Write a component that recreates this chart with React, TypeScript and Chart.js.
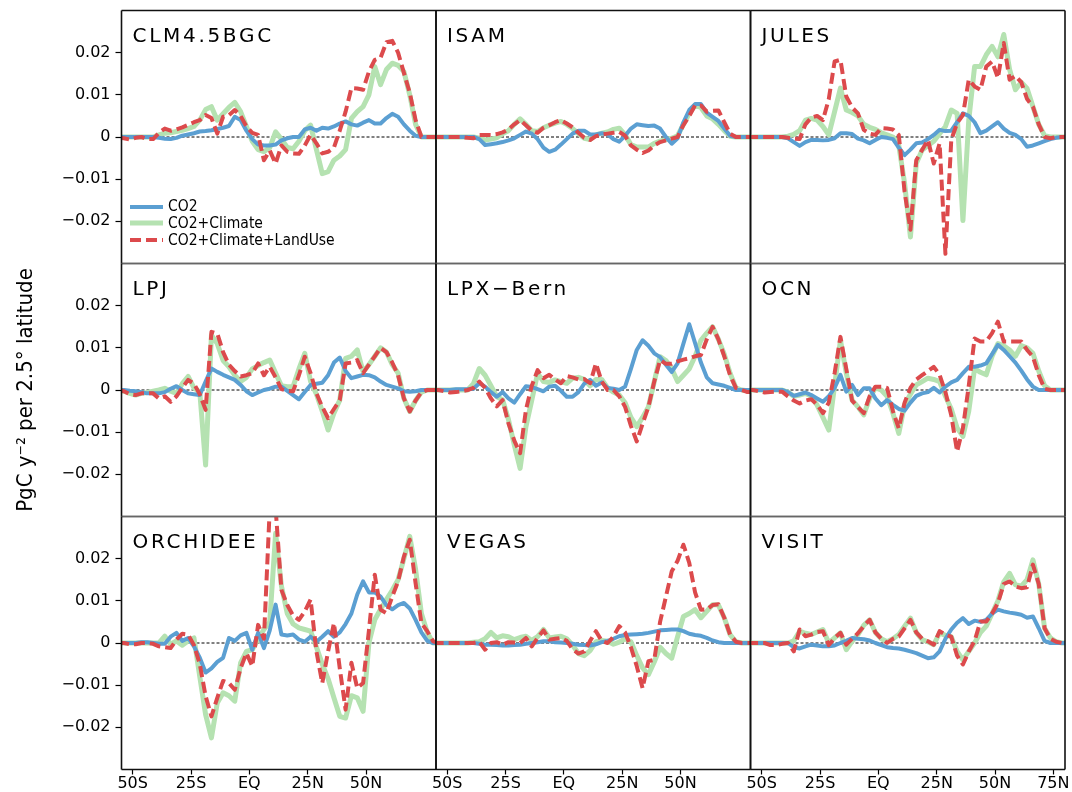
import React, { useEffect, useRef } from "react";
import { Chart, registerables } from "chart.js";

Chart.register(...registerables);

// ---------------- data ----------------
// latitude of each 2.5° band centre (degrees, negative = south)
const LATITUDES = [
  -56.25, -53.75, -51.25, -48.75, -46.25, -43.75, -41.25, -38.75, -36.25, -33.75,
  -31.25, -28.75, -26.25, -23.75, -21.25, -18.75, -16.25, -13.75, -11.25, -8.75,
  -6.25, -3.75, -1.25, 1.25, 3.75, 6.25, 8.75, 11.25, 13.75, 16.25,
  18.75, 21.25, 23.75, 26.25, 28.75, 31.25, 33.75, 36.25, 38.75, 41.25,
  43.75, 46.25, 48.75, 51.25, 53.75, 56.25, 58.75, 61.25, 63.75, 66.25,
  68.75, 71.25, 73.75, 76.25, 78.75, 81.25,
];

// values below are in 1e-3 PgC y^-2 per 2.5° latitude
const VALUE_UNIT = 0.001;

const CLM_CO2 = [0,
  0, 0, 0, 0, 0, 0, -0.2, -0.4, -0.5, -0.2,
  0.3, 0.6, 0.9, 1.3, 1.4, 1.6, 1.9, 2.2, 2.6, 4.8,
  4.0, 1.5, -0.5, -1.8, -2.0, -2.0, -1.8, -0.8, -0.3, 0,
  0, 1.8, 2.2, 1.5, 2.2, 2.0, 2.5, 3.2, 3.7, 3.0,
  2.7, 3.4, 4.0, 3.2, 3.2, 4.5, 5.5, 4.8, 3.0, 1.5,
  0.3, 0, 0, 0,
  0];
const CLM_CLIM = [0,
  0, 0, 0, 0, 0, 0, 0.5, 0.9, 1.0, 1.3,
  1.6, 2.0, 2.5, 4.0, 6.5, 7.2, 4.0, 5.5, 7.0, 8.2,
  6.0, 2.5, -1.0, -3.0, -3.5, -2.5, 1.2, -0.5, -2.5, -2.8,
  -1.0, 1.5, 2.8, -3.0, -8.7, -8.2, -5.5, -4.5, -3.0, 4.4,
  6.0, 7.2, 10.0, 16.7, 12.4, 16.0, 17.5, 17.0, 15.5, 10.0,
  3.0, 0, 0, 0,
  0];
const CLM_LUC = [-0.2,
  -0.3, -0.6, -0.2, 0, -0.5, -0.5, 1.0, 2.0, 1.5, 1.8,
  2.3, 2.9, 3.5, 4.0, 5.2, 4.5, 0.8, 4.8, 5.2, 6.4,
  5.0, 2.5, 1.0, 0.5, -5.5, -3.2, -6.3, -2.0, -3.5, -3.9,
  -4.0, -2.0, 0.5, -1.5, -3.9, -3.5, -2.5, 1.5, 6.0, 11.6,
  11.5, 11.2, 15.5, 18.3, 18.8, 22.5, 22.8, 20.0, 15.2, 10.5,
  4.0, 0, 0, 0,
  0];

const ISAM_CO2 = [0,
  0, 0, 0, 0, 0, 0, 0, -0.5, -1.9, -1.7,
  -1.5, -1.2, -0.8, -0.3, 0.5, 1.3, 0.8, -0.5, -2.5, -3.5,
  -3.0, -1.8, -0.5, 0.8, 1.5, 1.5, 0.6, 0.6, 0.9, 0.6,
  -0.5, -1.1, 0.3, 2.0, 3.0, 2.8, 2.6, 2.7, 2.0, 0,
  -1.6, -0.3, 3.5, 6.4, 7.8, 7.8, 5.8, 4.8, 3.8, 2.0,
  0.3, 0, 0, 0,
  0];
const ISAM_CLIM = [0,
  0, 0, 0, 0, 0, 0, 0, -0.3, -0.7, -0.5,
  -0.2, 0.8, 1.5, 3.0, 4.3, 3.0, 1.5, 1.3, 2.2, 2.8,
  3.3, 3.7, 3.0, 2.0, 0.8, -0.3, -0.6, 0.5, 0.9, 1.2,
  1.8, 2.1, 0.5, -1.8, -2.4, -2.4, -2.4, -1.5, -1.0, -0.6,
  -0.3, 0.3, 3.0, 5.6, 7.5, 7.0, 5.0, 4.3, 3.0, 1.5,
  0.2, 0, 0, 0,
  0];
const ISAM_LUC = [0,
  0, 0, 0, 0, 0, -0.2, -0.3, 0.5, 0.5, 0.5,
  0.7, 1.1, 1.8, 3.0, 4.0, 2.8, 1.5, 1.0, 2.2, 2.8,
  3.5, 4.0, 3.2, 2.3, 1.0, -0.2, -0.7, 0.2, 0.6, 0.8,
  1.0, 1.2, 0.3, -2.0, -3.0, -3.8, -3.2, -2.0, -1.2, -0.8,
  -0.4, 0, 2.8, 5.0, 7.5, 7.5, 6.0, 6.2, 6.3, 3.5,
  0.8, 0, 0, 0,
  0];

const JULES_CO2 = [0,
  0, 0, 0, 0, 0, 0, -0.3, -1.2, -2.1, -1.2,
  -0.7, -0.7, -0.8, -0.7, -0.3, 0.9, 0.9, 0.7, -0.4, -0.8,
  -1.5, -0.7, 0, -0.2, -0.5, -2.5, -4.3, -3.0, -1.5, -1.3,
  -0.5, 0.5, 1.7, 1.4, 1.5, 3.5, 5.6, 5.0, 3.5, 0.9,
  1.5, 2.5, 3.5, 2.0, 1.0, 0.5, -0.5, -2.3, -2.0, -1.5,
  -1.0, -0.5, -0.2, 0,
  0];
const JULES_CLIM = [0,
  0, 0, 0, 0, 0, 0, 0.2, 0.6, 1.5, 4.0,
  4.4, 4.0, 2.5, 0.5, 6.0, 11.6, 6.4, 5.8, 5.0, 3.0,
  2.3, 1.8, 1.0, 0.5, 0, -2.0, -11.0, -23.7, -6.3, -3.1,
  -2.0, -1.0, 0.8, 2.5, 6.4, 5.6, -19.8, 4.0, 16.7, 16.7,
  19.5, 21.5, 19.0, 24.3, 16.0, 11.2, 13.0, 11.5, 7.2, 3.0,
  0.3, 0, 0, 0,
  0];
const JULES_LUC = [0,
  0, 0, 0, 0, 0, 0, -0.2, -0.4, -0.5, 3.0,
  4.6, 5.0, 4.0, 9.0, 17.9, 18.3, 9.6, 7.0, 5.6, 1.7,
  0.8, 0.5, 2.1, 2.0, 1.8, 0.5, -13.0, -22.0, -5.5, -3.1,
  -0.7, -6.3, -1.5, -27.7, -0.7, 3.3, 5.2, 13.6, 12.0, 11.2,
  16.7, 17.9, 14.0, 22.3, 13.6, 14.5, 13.0, 9.0, 7.2, 3.0,
  0, -0.3, 0, 0,
  0];

const LPJ_CO2 = [0,
  0, -0.2, -0.3, -0.5, -0.8, -0.8, -0.8, -0.5, 0.3, 0.9,
  0, -0.8, -1.0, -1.2, 2.0, 5.1, 4.3, 3.6, 3.0, 2.4,
  1.2, -0.3, -1.2, -0.6, 0, 0.3, 0.8, 0.8, -0.2, -1.2,
  -2.2, -0.5, 1.2, 1.5, 1.7, 3.5, 6.5, 7.7, 4.5, 2.8,
  3.2, 3.6, 3.5, 3.0, 2.0, 1.2, 0.8, 0.4, -0.3, -0.4,
  -0.3, 0, 0, 0,
  0];
const LPJ_CLIM = [0,
  -0.3, -0.8, -1.2, -0.8, -0.6, -0.3, 0, 0.4, -0.3, -0.8,
  1.5, 3.2, 0.5, -0.5, -17.8, 13.0, 11.0, 7.0, 5.5, 3.5,
  2.0, 3.0, 5.0, 5.8, 6.5, 7.1, 4.0, 1.0, 0.8, 0.8,
  5.0, 8.7, 2.0, -1.0, -5.0, -9.5, -5.5, -2.4, 7.5, 8.0,
  9.5, 4.3, 6.0, 8.0, 10.0, 9.0, 6.0, 4.0, -2.0, -5.1,
  -2.5, -0.5, 0, 0,
  0];
const LPJ_LUC = [0,
  -0.3, -1.0, -1.2, -0.8, -0.8, -0.8, -2.0, -1.5, -2.8, -1.5,
  0.5, 2.4, 1.5, -1.0, -4.7, 13.8, 13.4, 9.0, 6.0, 4.5,
  3.2, 3.5, 4.0, 6.3, 3.5, 5.5, 3.0, 0.2, -0.2, -0.3,
  3.5, 7.9, 4.0, -0.8, -4.0, -6.7, -4.5, -2.4, 6.3, 6.5,
  7.1, 4.0, 6.0, 8.0, 10.0, 9.0, 6.5, 3.5, -2.0, -5.1,
  -2.5, -0.5, 0, 0,
  0];

const LPX_CO2 = [0,
  0, 0, 0, 0.2, 0.2, 0.2, 0.3, 1.6, 0.8, -0.5,
  -1.6, -0.5, -2.0, -3.0, -1.0, 0.9, 0.7, 0.2, -0.3, 0.8,
  1.0, -0.2, -1.6, -1.6, -0.5, 1.5, 2.4, 1.0, 1.8, 0.5,
  0.3, 0, 0.8, 5.0, 9.5, 11.8, 10.5, 8.7, 7.8, 6.0,
  4.3, 6.3, 11.0, 15.6, 11.1, 6.5, 3.0, 1.6, 1.3, 1.0,
  0.5, 0, 0, 0,
  0];
const LPX_CLIM = [0,
  0, 0, 0, 0, 0, 0, 1.5, 5.1, 3.5, 1.0,
  -1.6, -2.3, -7.0, -13.0, -18.6, -8.7, -2.4, 3.9, 2.0, 1.8,
  2.4, 2.0, 1.6, 2.8, 3.0, 2.5, 1.0, 2.5, 2.5, 0.5,
  -0.5, -1.2, -3.0, -6.5, -8.7, -6.5, -4.0, 2.0, 7.9, 7.0,
  5.0, 2.0, 3.5, 5.0, 8.0, 11.8, 13.5, 15.0, 12.0, 8.5,
  4.0, 0.5, 0, -0.2,
  0];
const LPX_LUC = [0,
  0, -0.3, -0.6, -0.5, -0.3, 0, 0.5, 2.0, 0.5, -2.0,
  -3.9, -2.4, -7.9, -12.0, -15.0, -4.7, 1.0, 4.7, 2.8, 3.6,
  2.5, 1.6, 3.3, 3.0, 2.5, 2.6, 1.6, 6.3, 2.0, 0,
  0, -1.5, -4.0, -8.5, -12.2, -8.0, -4.0, 2.0, 7.1, 6.2,
  6.2, 6.8, 7.2, 7.5, 8.0, 8.3, 12.0, 15.0, 12.0, 8.0,
  3.5, 0.5, 0, -0.5,
  -0.5];

const OCN_CO2 = [0,
  0, 0, 0, 0, 0, 0, -0.5, -1.4, -1.0, -0.6,
  -1.2, -2.0, -2.8, -1.5, 0.5, 3.6, -0.4, 1.2, -1.2, 0.4,
  0.4, -2.0, -3.6, -2.4, -3.5, -4.5, -4.9, -3.0, -1.4, -0.8,
  -0.5, 0.5, -0.6, 0.8, 1.8, 2.4, 4.0, 5.5, 5.5, 5.8,
  6.3, 8.5, 10.7, 9.5, 8.0, 6.5, 4.6, 2.5, 0.8, 0,
  0, 0, 0, 0,
  0];
const OCN_CLIM = [0,
  0, 0, 0, 0, 0, 0, -0.5, -1.5, -1.2, -0.8,
  -1.5, -3.6, -6.5, -9.5, 1.0, 11.8, 4.0, -2.4, -4.0, -5.9,
  -2.0, 0.5, 0, -1.5, -5.5, -10.3, -3.5, -1.0, 1.2, 2.0,
  2.8, 2.5, 2.0, -1.5, -4.5, -9.0, -11.0, -5.0, 5.1, 4.2,
  3.6, 8.0, 11.0, 10.5, 9.5, 8.0, 10.5, 10.0, 8.7, 4.5,
  1.0, 0, 0, 0,
  0];
const OCN_LUC = [0,
  0, -0.3, -0.6, -0.5, -0.4, -0.4, -1.5, -2.5, -3.2, -2.5,
  -2.2, -3.5, -5.5, -3.0, 4.0, 12.6, 5.0, -2.5, -4.0, -5.5,
  -1.5, 0.8, 0.8, 0.5, -5.0, -9.1, -3.0, 0.5, 2.5, 3.5,
  4.5, 5.5, 3.6, -0.5, -6.0, -14.6, -9.0, 1.0, 12.2, 11.5,
  11.5, 13.5, 16.2, 11.5, 11.5, 11.5, 11.5, 9.5, 7.9, 3.5,
  0.3, 0, 0, 0,
  0];

const ORCH_CO2 = [0,
  0, 0, 0, 0.2, 0.2, 0, -0.2, -0.2, 1.5, 2.4,
  0.5, 1.2, -0.8, -3.5, -7.0, -6.0, -4.5, -3.5, 1.2, 0.5,
  1.8, 2.4, -1.6, 2.4, -1.2, 3.0, 9.1, 2.0, 1.8, 2.0,
  0.8, 0.3, 1.5, 0.3, 1.5, 2.8, 1.5, 2.5, 4.5, 7.0,
  11.5, 14.6, 12.0, 12.0, 11.0, 9.0, 8.0, 9.0, 9.5, 8.2,
  5.5, 2.5, 0.5, 0,
  0];
const ORCH_CLIM = [0,
  0, 0, 0, 0, 0, 0, 0, 1.6, -0.3, 0.5,
  -0.5, 0.5, 1.2, -8.0, -17.0, -22.5, -14.2, -11.8, -12.5, -13.8,
  -4.7, -2.0, -1.6, 1.0, 3.2, 5.0, 26.0, 13.5, 7.0, 4.5,
  3.6, 3.2, 2.8, -1.0, -5.0, -8.5, -13.0, -17.4, -17.8, -12.5,
  -13.0, -16.2, 0, 5.5, 8.0, 10.3, 12.5, 15.0, 20.0, 25.3,
  17.5, 7.0, 2.5, 0,
  0];
const ORCH_LUC = [0,
  0, -0.3, -0.3, 0, 0, -0.2, -0.8, -1.0, -1.2, 0.8,
  2.2, 2.0, -0.5, -5.0, -12.6, -17.4, -13.0, -9.0, -9.5, -11.1,
  -6.0, -2.4, -5.5, 4.3, 1.0, 32, 32, 12.6, 9.0, 6.5,
  5.5, 7.5, 10.3, -2.0, -9.5, -2.0, 4.7, -6.0, -15.8, -4.7,
  -10.7, -9.5, 3.0, 16.2, 7.9, 7.1, 11.0, 14.6, 20.5, 24.5,
  14.2, 4.7, 2.8, 0.4,
  0];

const VEGAS_CO2 = [0,
  0, 0, 0, 0, 0, 0, 0, -0.2, -0.4, -0.4,
  -0.5, -0.6, -0.6, -0.5, -0.4, -0.2, 0, 0.2, 0.4, 0.4,
  0.2, 0.1, 0, -0.2, -0.4, -0.5, -0.6, -0.3, 0.2, 0.5,
  1.0, 1.6, 1.9, 2.0, 2.1, 2.2, 2.4, 2.7, 3.0, 3.1,
  3.2, 3.2, 2.8, 2.2, 1.9, 1.7, 1.2, 0.6, 0.2, 0,
  0, 0, 0, 0,
  0];
const VEGAS_CLIM = [0,
  0, 0, 0, 0, 0, 0, 0.2, 0.3, 1.0, 2.5,
  1.2, 1.7, 1.5, 0.8, 1.3, 1.6, 0.6, 1.5, 3.2, 1.2,
  1.4, 1.6, 1.0, -0.5, -2.5, -3.0, -1.8, 0.3, 0.6, 0.4,
  -0.3, 0.2, 1.0, 0.3, -3.0, -5.9, -7.5, -4.5, -1.0, -2.5,
  -3.6, 1.5, 6.3, 7.0, 7.9, 6.0, 7.5, 9.1, 9.0, 6.0,
  2.0, 0.3, 0, 0,
  0];
const VEGAS_LUC = [0,
  0, 0, 0, 0, 0, 0, 0, 0.3, -1.6, 0,
  0.2, -0.4, 0.2, 0.1, 0, 1.2, -0.8, 1.2, 3.0, 0.8,
  1.0, 1.2, 0.5, -1.5, -2.5, -2.0, 0.5, 2.8, 0.5, 0,
  1.5, 4.0, 2.5, -1.0, -5.5, -10.7, -4.3, -4.0, 5.0, 11.0,
  17.0, 19.5, 23.3, 19.0, 12.0, 7.9, 8.0, 9.0, 9.2, 6.0,
  2.0, 0.3, 0, 0,
  0];

const VISIT_CO2 = [0,
  0, 0, 0, 0, 0, 0, 0, -1.0, -1.3, -0.8,
  -0.4, -0.6, -0.8, -0.8, -0.6, 0, 0.5, 1.2, 1.0, 0.9,
  0.6, 0, -0.5, -1.0, -1.2, -1.3, -1.6, -2.0, -2.4, -3.0,
  -3.6, -3.4, -2.0, 1.0, 3.2, 4.8, 5.9, 4.5, 5.3, 5.0,
  5.5, 7.0, 7.9, 7.5, 7.2, 7.0, 6.7, 6.0, 6.3, 3.5,
  0.5, 0, 0, 0,
  0];
const VISIT_CLIM = [0,
  0, 0, 0, 0, 0, 0, 0, 0.5, 2.8, 2.3,
  2.0, 2.6, 3.2, 0, 1.2, 2.4, -1.6, 0.4, 2.0, 4.2,
  5.5, 2.5, 1.0, 0.3, 1.0, 2.0, 4.0, 5.9, 2.5, 0.8,
  0.3, -0.4, 2.4, 1.8, 1.5, -2.0, -4.0, -2.0, 0, 2.5,
  4.0, 7.0, 10.0, 14.5, 16.5, 13.8, 13.5, 15.0, 19.7, 14.0,
  3.5, 1.2, 0.3, 0,
  0];
const VISIT_LUC = [0,
  0, 0, 0, -0.5, -0.5, -0.2, 0, -2.0, 3.2, 1.6,
  2.0, 2.6, 2.8, -0.5, 1.2, 2.4, -0.4, 1.0, 2.3, 4.0,
  5.5, 2.5, 1.0, 0, 1.0, 1.5, 3.5, 5.5, 2.5, 1.0,
  0.4, -0.4, 2.8, 2.0, 1.5, -3.0, -5.1, -2.0, 0.5, 5.1,
  5.1, 7.0, 9.5, 14.0, 14.6, 13.4, 13.0, 13.2, 18.6, 14.0,
  3.5, 1.0, 0.3, 0,
  0];

const MODEL_NAMES = ["CLM4.5BGC", "ISAM", "JULES", "LPJ", "LPX\u2212Bern", "OCN", "ORCHIDEE", "VEGAS", "VISIT"];
const SERIES_NAMES = ["CO2", "CO2+Climate", "CO2+Climate+LandUse"];
const PANEL_SERIES = [
  [CLM_CO2, CLM_CLIM, CLM_LUC],
  [ISAM_CO2, ISAM_CLIM, ISAM_LUC],
  [JULES_CO2, JULES_CLIM, JULES_LUC],
  [LPJ_CO2, LPJ_CLIM, LPJ_LUC],
  [LPX_CO2, LPX_CLIM, LPX_LUC],
  [OCN_CO2, OCN_CLIM, OCN_LUC],
  [ORCH_CO2, ORCH_CLIM, ORCH_LUC],
  [VEGAS_CO2, VEGAS_CLIM, VEGAS_LUC],
  [VISIT_CO2, VISIT_CLIM, VISIT_LUC],
];

const X_TICKS = [-50, -25, 0, 25, 50, 75];
const X_TICK_LABELS = ["50S", "25S", "EQ", "25N", "50N", "75N"];
const Y_TICKS = [-0.02, -0.01, 0, 0.01, 0.02];
const Y_TICK_LABELS = ["\u22120.02", "\u22120.01", "0", "0.01", "0.02"];
const Y_LABEL = "PgC y\u207B\u00B2 per 2.5\u00B0 latitude";

// ---------------- layout / style ----------------
const FIG_W = 1072;
const FIG_H = 792;
const COL_X = [121.5, 436, 750.5, 1065];
const ROW_Y = [10.5, 263.5, 516.5, 769.5];
const Y_AXIS_W = 60;
const X_AXIS_H = 22;
const X_MIN = -54.8;
const X_MAX = 80;
const Y_MIN = -0.03;
const Y_MAX = 0.03;

const SERIES_STYLE = [
  { color: "#5b9fd2", width: 4, dash: [] as number[], order: 1 },
  { color: "#b5e2b1", width: 5, dash: [] as number[], order: 2 },
  { color: "#dc4a4c", width: 4, dash: [11, 5], order: 0 },
];

const TICK_FONT = { family: '"DejaVu Sans", "Liberation Sans", sans-serif', size: 16 };
const NARROW_FAMILY = '"DejaVu Sans Condensed", "DejaVu Sans", "Liberation Sans Narrow", sans-serif';

function makeFramePlugin(r: number, c: number) {
  return {
    id: "panelFrame",
    beforeDatasetsDraw(chart: any) {
      const { ctx, chartArea: a, scales } = chart;
      const y0 = scales.y.getPixelForValue(0);
      ctx.save();
      ctx.strokeStyle = "#000";
      ctx.lineWidth = 1;
      ctx.setLineDash([3, 2]);
      ctx.beginPath();
      ctx.moveTo(a.left, y0);
      ctx.lineTo(a.right, y0);
      ctx.stroke();
      ctx.restore();
    },
    afterDraw(chart: any) {
      const { ctx, chartArea: a } = chart;
      const seg = (x1: number, y1: number, x2: number, y2: number, col: string) => {
        ctx.strokeStyle = col;
        ctx.beginPath();
        ctx.moveTo(x1, y1);
        ctx.lineTo(x2, y2);
        ctx.stroke();
      };
      ctx.save();
      ctx.lineWidth = 1.6;
      ctx.setLineDash([]);
      seg(a.left, a.top, a.right, a.top, r === 0 ? "#111" : "#666");
      seg(a.left, a.bottom, a.right, a.bottom, r === 2 ? "#111" : "#666");
      seg(a.left, a.top, a.left, a.bottom, "#111");
      seg(a.right, a.top, a.right, a.bottom, "#111");
      ctx.restore();
    },
  };
}

function Panel({ index }: { index: number }) {
  const ref = useRef<HTMLCanvasElement | null>(null);
  useEffect(() => {
    const r = Math.floor(index / 3);
    const c = index % 3;
    const series = PANEL_SERIES[index];
    const datasets = series.map((vals, s) => ({
      label: SERIES_NAMES[s],
      data: LATITUDES.map((lat, k) => ({ x: lat, y: vals[k] * VALUE_UNIT })),
      borderColor: SERIES_STYLE[s].color,
      borderWidth: SERIES_STYLE[s].width,
      borderDash: SERIES_STYLE[s].dash,
      borderJoinStyle: "round",
      borderCapStyle: "butt",
      pointRadius: 0,
      tension: 0,
      fill: false,
      order: SERIES_STYLE[s].order,
    }));
    const xTicks = c === 2 ? X_TICKS : X_TICKS.slice(0, 5);
    const showX = r === 2;
    const showY = c === 0;
    const chart = new Chart(ref.current as HTMLCanvasElement, {
      type: "line",
      data: { datasets } as any,
      options: {
        responsive: false,
        maintainAspectRatio: false,
        devicePixelRatio: 1,
        animation: false,
        events: [],
        layout: {
          padding: {
            left: COL_X[c] - (showY ? Y_AXIS_W : 0),
            right: FIG_W - COL_X[c + 1],
            top: ROW_Y[r],
            bottom: FIG_H - ROW_Y[r + 1] - (showX ? X_AXIS_H : 0),
          },
        },
        plugins: {
          legend: { display: false },
          title: { display: false },
          tooltip: { enabled: false },
        },
        scales: {
          x: {
            type: "linear",
            position: "bottom",
            min: X_MIN,
            max: X_MAX,
            display: showX,
            afterBuildTicks: (s: any) => {
              s.ticks = xTicks.map((v) => ({ value: v }));
            },
            afterFit: (s: any) => {
              if (showX) s.height = X_AXIS_H;
              s.paddingLeft = 0;
              s.paddingRight = 0;
            },
            ticks: {
              autoSkip: false,
              maxRotation: 0,
              padding: 0,
              color: "#000",
              font: TICK_FONT,
              callback: (v: any) => X_TICK_LABELS[X_TICKS.indexOf(Number(v))],
            },
            grid: {
              display: true,
              drawOnChartArea: false,
              drawTicks: true,
              tickLength: 5,
              tickColor: "#000",
              tickWidth: 1.2,
            },
            border: { display: false },
          },
          y: {
            type: "linear",
            position: "left",
            min: Y_MIN,
            max: Y_MAX,
            display: showY,
            afterBuildTicks: (s: any) => {
              s.ticks = Y_TICKS.map((v) => ({ value: v }));
            },
            afterFit: (s: any) => {
              if (showY) s.width = Y_AXIS_W;
              s.paddingTop = 0;
              s.paddingBottom = 0;
            },
            ticks: {
              padding: 5,
              color: "#000",
              font: TICK_FONT,
              callback: (v: any) => Y_TICK_LABELS[Y_TICKS.findIndex((t) => Math.abs(t - Number(v)) < 1e-9)],
            },
            grid: {
              display: true,
              drawOnChartArea: false,
              drawTicks: true,
              tickLength: 6,
              tickColor: "#000",
              tickWidth: 1.2,
            },
            border: { display: false },
          },
        },
      } as any,
      plugins: [makeFramePlugin(r, c)],
    });
    return () => chart.destroy();
  }, [index]);
  return (
    <canvas
      ref={ref}
      width={FIG_W}
      height={FIG_H}
      style={{ position: "absolute", left: 0, top: 0, width: FIG_W, height: FIG_H }}
    />
  );
}

function Legend() {
  const left = 130;
  const top0 = 206.7;
  const step = 16.7;
  return (
    <div style={{ position: "absolute", left: 0, top: 0 }}>
      {SERIES_NAMES.map((name, s) => {
        const cy = top0 + step * s;
        const st = SERIES_STYLE[s];
        return (
          <div key={name}>
            <svg
              width={36}
              height={10}
              style={{ position: "absolute", left: left, top: cy - 5, overflow: "visible" }}
            >
              <line
                x1={0}
                y1={5}
                x2={33}
                y2={5}
                stroke={st.color}
                strokeWidth={st.width}
                strokeDasharray={st.dash.length ? st.dash.join(" ") : undefined}
              />
            </svg>
            <div
              style={{
                position: "absolute",
                left: left + 38,
                top: cy - 8.5,
                fontFamily: NARROW_FAMILY,
                fontStretch: "condensed",
                fontSize: 15.5,
                lineHeight: "16px",
                color: "#000",
                whiteSpace: "nowrap",
              }}
            >
              {name}
            </div>
          </div>
        );
      })}
    </div>
  );
}

export default function App() {
  return (
    <div
      style={{
        position: "absolute",
        left: 0,
        top: 0,
        width: FIG_W,
        height: FIG_H,
        background: "#fff",
        overflow: "hidden",
      }}
    >
      {PANEL_SERIES.map((_, i) => (
        <Panel key={i} index={i} />
      ))}
      {MODEL_NAMES.map((name, i) => {
        const r = Math.floor(i / 3);
        const c = i % 3;
        return (
          <div
            key={name}
            style={{
              position: "absolute",
              left: COL_X[c] + 11,
              top: ROW_Y[r] + 14,
              fontFamily: '"DejaVu Sans", "Liberation Sans", sans-serif',
              fontSize: 20,
              lineHeight: "20px",
              letterSpacing: "2.7px",
              color: "#000",
              whiteSpace: "nowrap",
            }}
          >
            {name}
          </div>
        );
      })}
      <Legend />
      <div
        style={{
          position: "absolute",
          left: 25 - 200,
          top: 390 - 12,
          width: 400,
          height: 24,
          lineHeight: "24px",
          textAlign: "center",
          transform: "rotate(-90deg)",
          fontFamily: NARROW_FAMILY,
          fontStretch: "condensed",
          fontSize: 22,
          color: "#000",
          whiteSpace: "nowrap",
        }}
      >
        {Y_LABEL}
      </div>
    </div>
  );
}
